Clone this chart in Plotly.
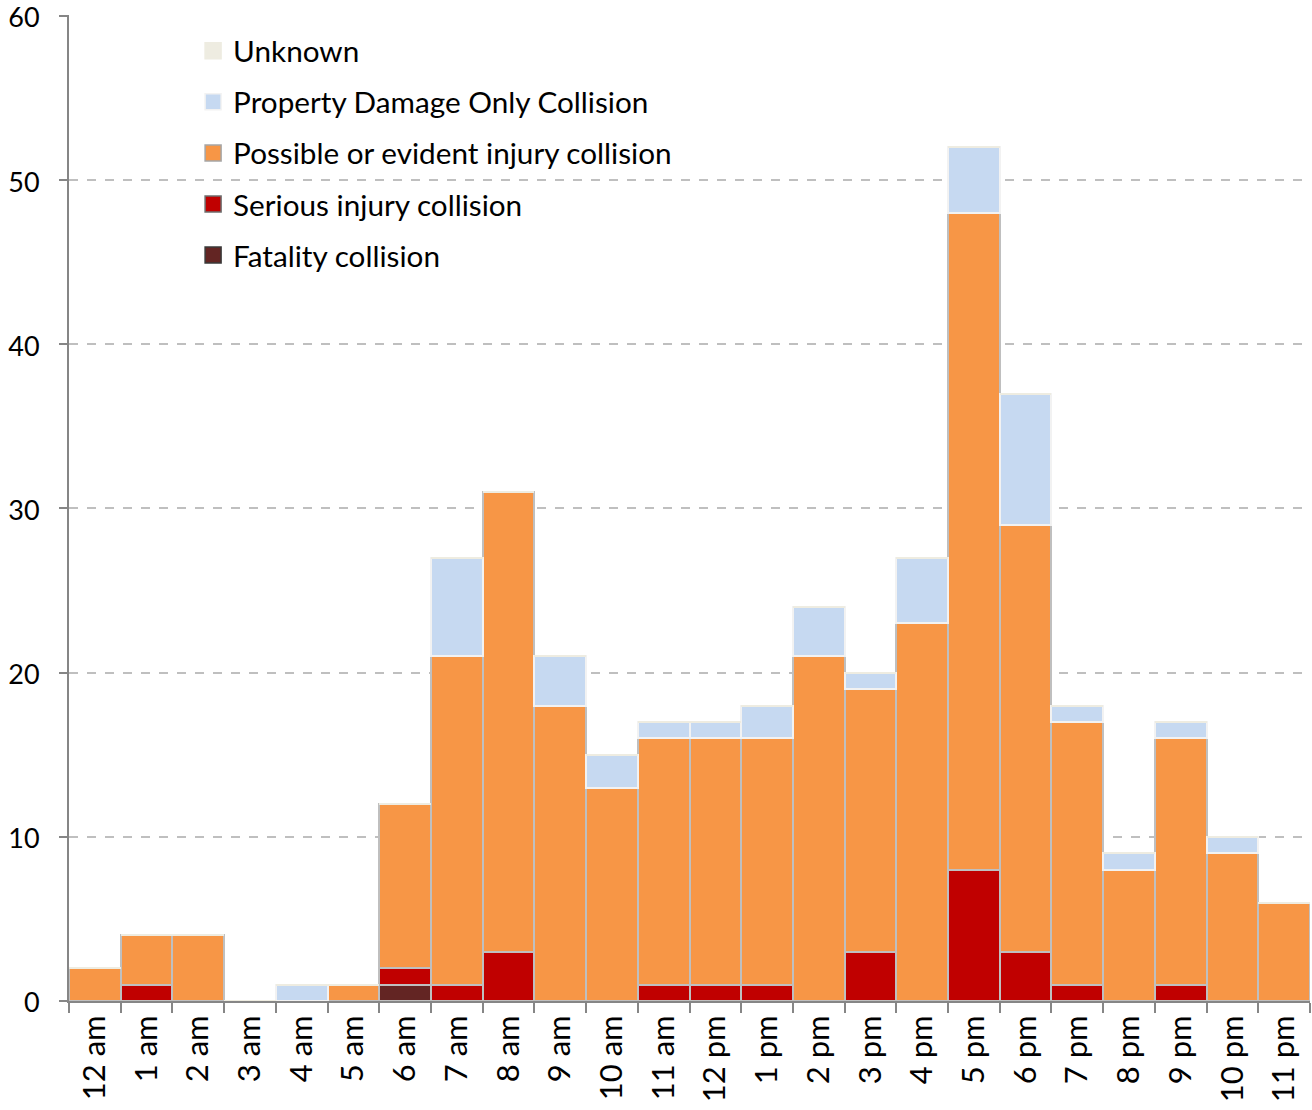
import plotly.graph_objects as go

hours = ["12 am", "1 am", "2 am", "3 am", "4 am", "5 am", "6 am", "7 am", "8 am",
         "9 am", "10 am", "11 am", "12 pm", "1 pm", "2 pm", "3 pm", "4 pm", "5 pm",
         "6 pm", "7 pm", "8 pm", "9 pm", "10 pm", "11 pm"]

fatality = [0, 0, 0, 0, 0, 0, 1, 0, 0, 0, 0, 0, 0, 0, 0, 0, 0, 0, 0, 0, 0, 0, 0, 0]
serious = [0, 1, 0, 0, 0, 0, 1, 1, 3, 0, 0, 1, 1, 1, 0, 3, 0, 8, 3, 1, 0, 1, 0, 0]
possible = [2, 3, 4, 0, 0, 1, 10, 20, 28, 18, 13, 15, 15, 15, 21, 16, 23, 40, 26, 16, 8, 15, 9, 6]
property_damage = [0, 0, 0, 0, 1, 0, 0, 6, 0, 3, 2, 1, 1, 2, 3, 1, 4, 4, 8, 1, 1, 1, 1, 0]
unknown = [0] * 24

# name, values, fill, bar edge, legend swatch edge (stacked bottom to top)
series = [
    ("Fatality collision", fatality, "#632523", "#BFBFBF", "#3A3A3A"),
    ("Serious injury collision", serious, "#C00000", "#BFBFBF", "#6E6E6E"),
    ("Possible or evident injury collision", possible, "#F79646", "#BFBFBF", "#A6A6A6"),
    ("Property Damage Only Collision", property_damage, "#C6D9F1", "#F2F2F2", "#F2F2F2"),
    ("Unknown", unknown, "#EEECE1", "#EEECE1", "#EEECE1"),
]

FONT = "Lato, Calibri, sans-serif"

fig = go.Figure()
for name, vals, color, edge, _ in series:
    fig.add_trace(go.Bar(
        x=hours, y=vals, name=name, showlegend=False,
        marker=dict(color=color, line=dict(color=edge, width=2)),
    ))

# legend swatches, listed top (Unknown) to bottom (Fatality)
for rank, (name, _, color, _, sw_edge) in enumerate(reversed(series)):
    fig.add_trace(go.Scatter(
        x=[None], y=[None], mode="markers", name=name,
        legendgroup=name, legendrank=rank + 1, showlegend=True,
        marker=dict(symbol="square", size=17, color=color,
                    line=dict(color=sw_edge, width=1.5)),
    ))

fig.update_layout(
    barmode="stack",
    bargap=0,
    width=1312, height=1110,
    margin=dict(l=69, r=2, t=15, b=109),
    paper_bgcolor="white", plot_bgcolor="white",
    font=dict(family=FONT, size=27, color="#000000"),
    legend=dict(
        x=0.1, y=0.99, xanchor="left", yanchor="top",
        traceorder="grouped", tracegroupgap=9.5,
        font=dict(family=FONT, size=29.7, color="#000000"),
        bgcolor="rgba(0,0,0,0)", itemwidth=30,
    ),
)

fig.update_xaxes(
    type="category", range=[-0.5, 23.5], automargin=False,
    showline=True, linecolor="#868686", linewidth=2,
    ticks="outside", ticklen=10, tickwidth=2, tickcolor="#868686",
    tickson="boundaries", tickangle=-90,
    tickfont=dict(family=FONT, size=31, color="#000000"),
    showgrid=False,
)

fig.update_yaxes(
    range=[0, 60.06], tickvals=[0, 10, 20, 30, 40, 50, 60], automargin=False,
    showline=True, linecolor="#868686", linewidth=2,
    ticks="outside", ticklen=8, tickwidth=2, tickcolor="#868686",
    ticklabelstandoff=14, ticklabelshift=2, ticklabeloverflow="allow",
    tickfont=dict(family=FONT, size=27, color="#000000"),
    showgrid=True, gridcolor="#BFBFBF", griddash="dash", gridwidth=1.5,
    zeroline=False,
)

fig.write_html("out.html")
